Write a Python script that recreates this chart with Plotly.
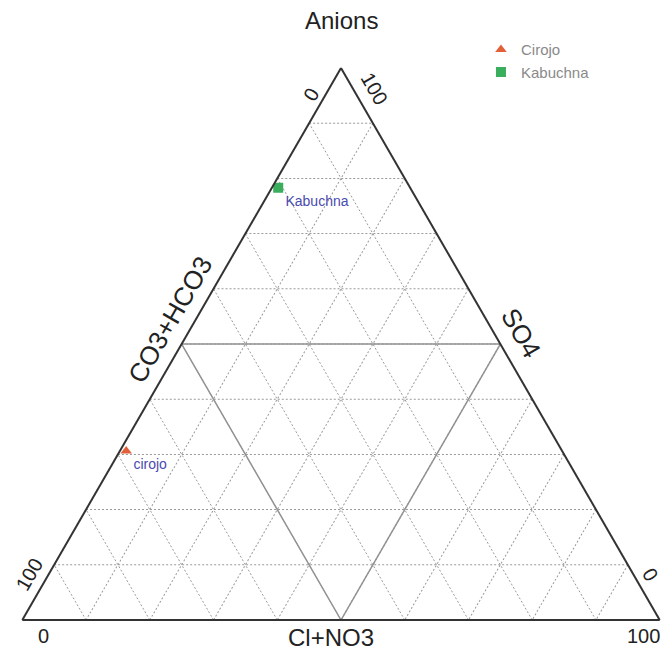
import plotly.graph_objects as go

# Data (percent of anions)
samples = ["Cirojo", "Kabuchna"]
labels = ["cirojo", "Kabuchna"]
so4 = [30.6, 78.3]          # a (top)
co3_hco3 = [68.4, 20.7]     # b (bottom-left)
cl_no3 = [1.0, 1.0]         # c (bottom-right)
colors = ["#e2603a", "#3aae5c"]
symbols = ["triangle-up", "square"]

fig = go.Figure()

# solid 50% inner triangle
mid_a = [50, 50, 0, 50]
mid_b = [50, 0, 50, 50]
mid_c = [0, 50, 50, 0]
fig.add_trace(go.Scatterternary(a=mid_a, b=mid_b, c=mid_c, mode="lines",
                                line=dict(color="#929292", width=1.5),
                                showlegend=False, hoverinfo="skip"))

for i in range(len(samples)):
    fig.add_trace(go.Scatterternary(
        a=[so4[i]], b=[co3_hco3[i]], c=[cl_no3[i]],
        mode="markers+text", name=samples[i],
        text=[labels[i]], textposition="bottom right",
        textfont=dict(color="#4a4ab0", size=14),
        marker=dict(symbol=symbols[i], color=colors[i], size=10)))

axis_common = dict(showticklabels=False, ticks="", showgrid=True,
                   gridcolor="#9a9a9a", griddash="2px,2px", gridwidth=1.1,
                   dtick=10, showline=True, linecolor="#333333", linewidth=2,
                   title=dict(text=""))

fig.update_layout(
    width=663, height=651,
    margin=dict(l=22, r=3, t=68, b=31),
    paper_bgcolor="white",
    font=dict(family="Liberation Sans, Arial, sans-serif", color="#222"),
    ternary=dict(sum=100, bgcolor="white",
                 aaxis=axis_common, baxis=axis_common, caxis=axis_common),
    legend=dict(x=0.7194, y=1.063, xanchor="left", yanchor="top",
                font=dict(size=15, color="#8a8a8a"), bgcolor="rgba(0,0,0,0)",
                itemwidth=30, tracegroupgap=0),
)

def px(x, y):
    return (x - 22) / 638, (620 - y) / 552

ann = [
    ("Anions", 342, 20, 0, 24),
    ("CO3+HCO3", 170, 320, -60, 26),
    ("SO4", 521, 333, 60, 26),
    ("Cl+NO3", 331, 637, 0, 24),
    ("0", 43, 636, 0, 20),
    ("100", 643, 636, 0, 20),
    ("100", 29, 575, -60, 20),
    ("0", 311, 95, -60, 20),
    ("100", 374, 88, 60, 20),
    ("0", 650, 574, 60, 20),
]
for t, x, y, ang, sz in ann:
    xx, yy = px(x, y)
    fig.add_annotation(text=t, x=xx, y=yy, xref="paper", yref="paper",
                       showarrow=False, textangle=ang,
                       font=dict(size=sz, color="#222"),
                       xanchor="center", yanchor="middle")

fig.write_html("out.html", config={"displayModeBar": False},
               post_script="document.body.style.margin='0';document.body.style.overflow='hidden';")
